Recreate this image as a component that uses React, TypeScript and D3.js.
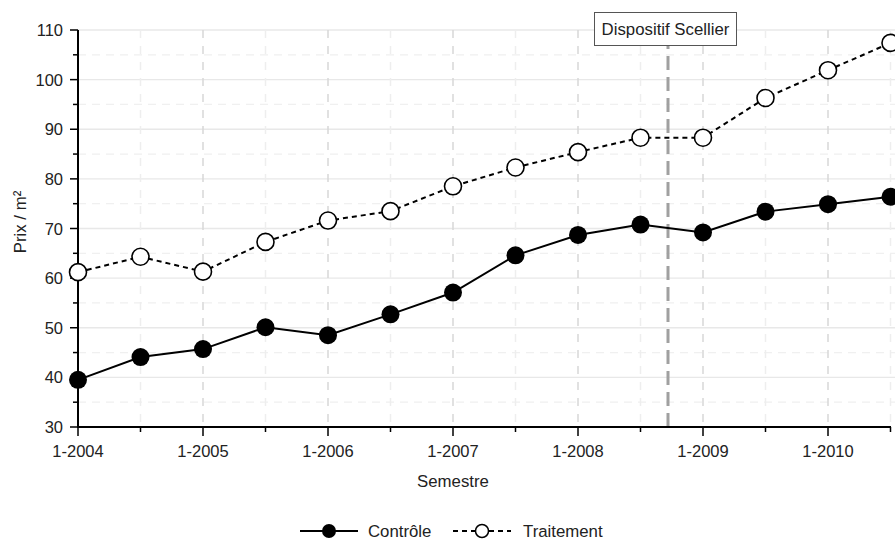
import React from 'react';
import * as d3 from 'd3';

const semesters = ['1-2004', '7-2004', '1-2005', '7-2005', '1-2006', '7-2006', '1-2007', '7-2007', '1-2008', '7-2008', '1-2009', '7-2009', '1-2010', '7-2010'];
const controle = [39.5, 44.1, 45.7, 50.1, 48.5, 52.7, 57.1, 64.6, 68.7, 70.8, 69.2, 73.4, 74.9, 76.4];
const traitement = [61.2, 64.3, 61.3, 67.3, 71.6, 73.5, 78.5, 82.3, 85.4, 88.3, 88.3, 96.3, 101.9, 107.4];
const yTicks = [30, 40, 50, 60, 70, 80, 90, 100, 110];
const yMinor = [35, 45, 55, 65, 75, 85, 95, 105];
const scellierAt = 9.44; // semester index of the policy start
const scellierLabel = 'Dispositif Scellier';

const W = 895;
const H = 541;
const font = 'Liberation Sans, Arial, sans-serif';

const App: React.FC = () => {
  const x = d3.scaleLinear().domain([0, semesters.length - 1]).range([78, 890.5]);
  const y = d3.scaleLinear().domain([30, 110]).range([427, 30]);
  const idx = d3.range(semesters.length);

  const line = d3.line<number>()
    .x((_, i) => x(i))
    .y(d => y(d));

  const sx = x(scellierAt);

  return (
    <svg width={W} height={H} style={{ position: 'absolute', left: 0, top: 0, background: '#fff' }} fontFamily={font}>
      {/* grid */}
      {yMinor.map(v => (
        <line key={'ym' + v} x1={78} x2={W} y1={y(v)} y2={y(v)} stroke="#f0f0f0" strokeWidth={1.2} strokeDasharray="8,6" />
      ))}
      {yTicks.slice(1).map(v => (
        <line key={'yg' + v} x1={78} x2={W} y1={y(v)} y2={y(v)} stroke="#e8e8e8" strokeWidth={1.3} />
      ))}
      {idx.slice(1).map(i => (
        <line key={'xg' + i} x1={x(i)} x2={x(i)} y1={30} y2={427}
          stroke={i % 2 === 0 ? '#d8d8d8' : '#eeeeee'} strokeWidth={1.5} strokeDasharray="8,8" />
      ))}

      {/* Scellier marker */}
      <line x1={sx} x2={sx} y1={427} y2={46} stroke="#a0a0a0" strokeWidth={3} strokeDasharray="14,7" />
      <rect x={594.5} y={12.5} width={142} height={33} fill="#fff" stroke="#555" strokeWidth={1} />
      <text x={665.5} y={29} textAnchor="middle" dominantBaseline="central" fontSize={16.8} fill="#222">{scellierLabel}</text>

      {/* axes */}
      <line x1={78} x2={78} y1={30} y2={428} stroke="#000" strokeWidth={2} />
      <line x1={77} x2={891} y1={427} y2={427} stroke="#000" strokeWidth={2} />
      {yTicks.map(v => (
        <g key={'yt' + v}>
          <line x1={70} x2={78} y1={y(v)} y2={y(v)} stroke="#000" strokeWidth={1.5} />
          <text x={63} y={y(v)} textAnchor="end" dominantBaseline="central" fontSize={16.5} fill="#222">{v}</text>
        </g>
      ))}
      {yMinor.map(v => (
        <line key={'ymt' + v} x1={73} x2={78} y1={y(v)} y2={y(v)} stroke="#000" strokeWidth={1.5} />
      ))}
      {idx.map(i => (
        <line key={'xt' + i} x1={x(i)} x2={x(i)} y1={427} y2={i % 2 === 0 ? 436 : 432} stroke="#000" strokeWidth={1.5} />
      ))}
      {idx.filter(i => i % 2 === 0).map(i => (
        <text key={'xl' + i} x={x(i)} y={451} textAnchor="middle" dominantBaseline="central" fontSize={16.5} fill="#222">{semesters[i]}</text>
      ))}
      <text x={453} y={481} textAnchor="middle" dominantBaseline="central" fontSize={16.8} fill="#222">Semestre</text>
      <text transform="translate(20,222) rotate(-90)" textAnchor="middle" dominantBaseline="central" fontSize={16.8} fill="#222">Prix / m²</text>

      {/* series */}
      <path d={line(traitement) || ''} fill="none" stroke="#000" strokeWidth={2} strokeDasharray="5,4" />
      <path d={line(controle) || ''} fill="none" stroke="#000" strokeWidth={2} />
      {traitement.map((v, i) => (
        <circle key={'t' + i} cx={x(i)} cy={y(v)} r={8.5} fill="#fff" stroke="#000" strokeWidth={1.6} />
      ))}
      {controle.map((v, i) => (
        <circle key={'c' + i} cx={x(i)} cy={y(v)} r={9} fill="#000" />
      ))}

      {/* legend */}
      <line x1={300} x2={358} y1={531} y2={531} stroke="#000" strokeWidth={2} />
      <circle cx={329} cy={531} r={7} fill="#000" />
      <text x={368} y={531} dominantBaseline="central" fontSize={16.8} fill="#222">Contrôle</text>
      <line x1={453} x2={511} y1={531} y2={531} stroke="#000" strokeWidth={2} strokeDasharray="5,4" />
      <circle cx={482} cy={531} r={6.5} fill="#fff" stroke="#000" strokeWidth={1.5} />
      <text x={523} y={531} dominantBaseline="central" fontSize={16.8} fill="#222">Traitement</text>
    </svg>
  );
};

export default App;
